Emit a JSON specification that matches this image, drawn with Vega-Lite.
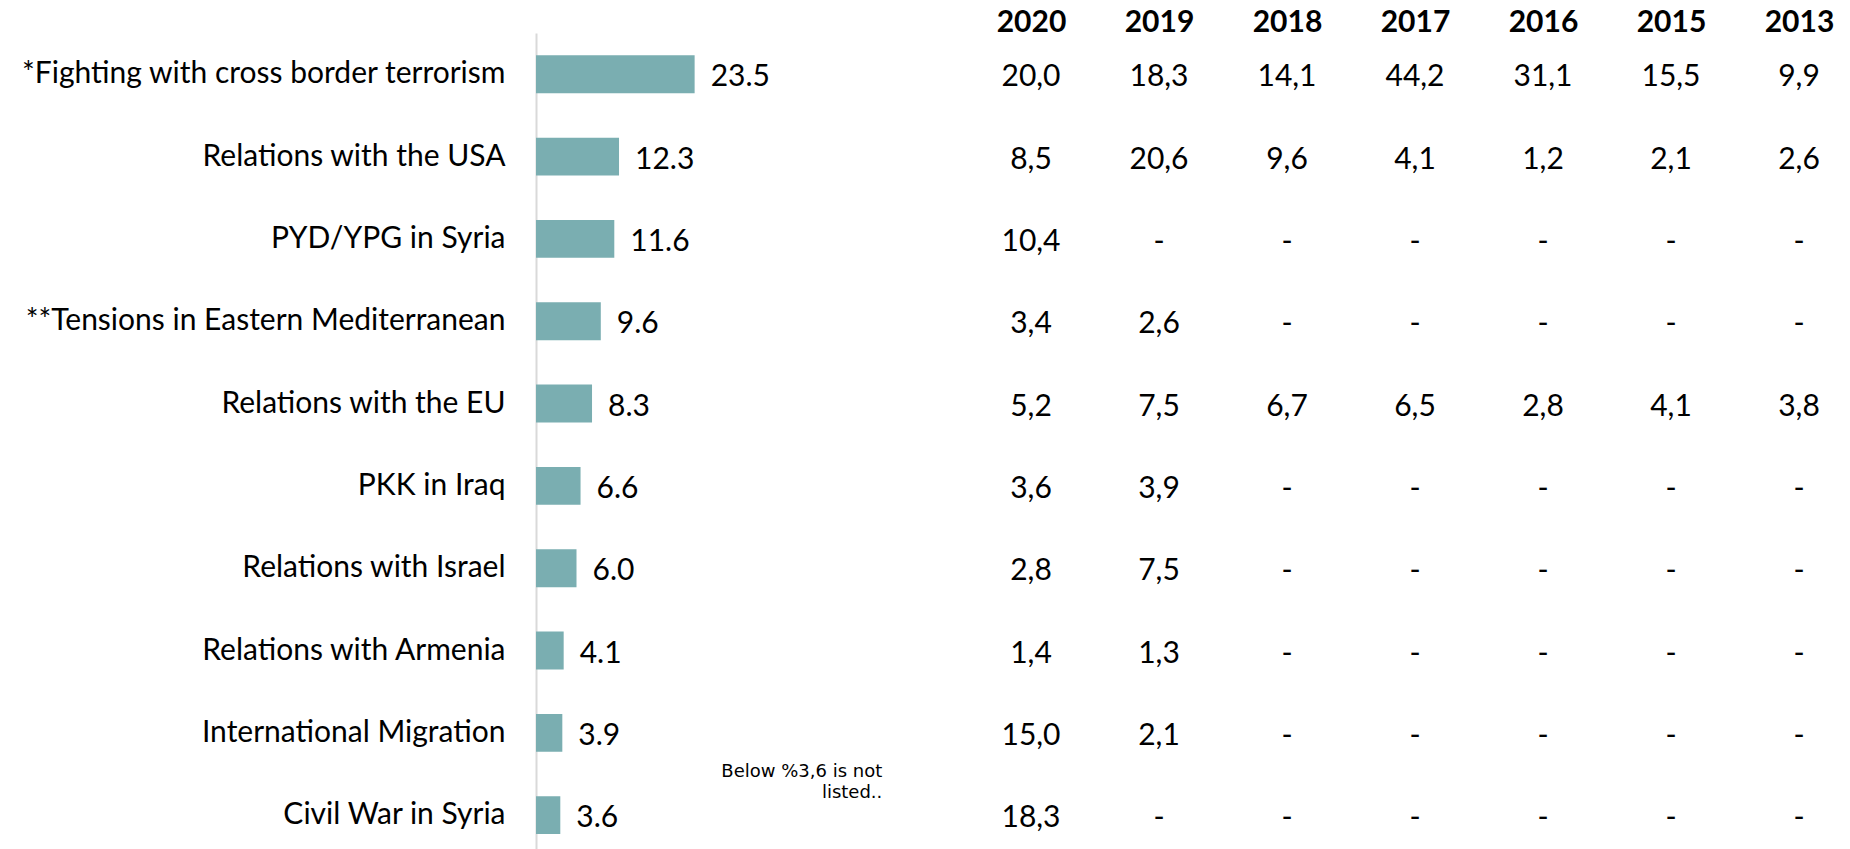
{
  "$schema": "https://vega.github.io/schema/vega-lite/v6.json",
  "autosize": {"type": "pad"},
  "padding": 0,
  "bounds": "flush",
  "spacing": 90,
  "background": "white",
  "config": {
    "view": {"stroke": null},
    "font": "Lato",
    "text": {"font": "Lato", "color": "#000000"}
  },
  "datasets": {
    "bars": [
      {"topic": "*Fighting with cross border terrorism", "value": 23.5},
      {"topic": "Relations with the USA", "value": 12.3},
      {"topic": "PYD/YPG in Syria", "value": 11.6},
      {"topic": "**Tensions in Eastern Mediterranean", "value": 9.6},
      {"topic": "Relations with the EU", "value": 8.3},
      {"topic": "PKK in Iraq", "value": 6.6},
      {"topic": "Relations with Israel", "value": 6.0},
      {"topic": "Relations with Armenia", "value": 4.1},
      {"topic": "International Migration", "value": 3.9},
      {"topic": "Civil War in Syria", "value": 3.6}
    ],
    "note": [
      {"topic": "Civil War in Syria", "x": 51.3, "label": "Below %3,6 is not\nlisted.."}
    ],
    "table": [
      {"topic": "*Fighting with cross border terrorism", "year": "2020", "cell": "20,0"},
      {"topic": "*Fighting with cross border terrorism", "year": "2019", "cell": "18,3"},
      {"topic": "*Fighting with cross border terrorism", "year": "2018", "cell": "14,1"},
      {"topic": "*Fighting with cross border terrorism", "year": "2017", "cell": "44,2"},
      {"topic": "*Fighting with cross border terrorism", "year": "2016", "cell": "31,1"},
      {"topic": "*Fighting with cross border terrorism", "year": "2015", "cell": "15,5"},
      {"topic": "*Fighting with cross border terrorism", "year": "2013", "cell": "9,9"},
      {"topic": "Relations with the USA", "year": "2020", "cell": "8,5"},
      {"topic": "Relations with the USA", "year": "2019", "cell": "20,6"},
      {"topic": "Relations with the USA", "year": "2018", "cell": "9,6"},
      {"topic": "Relations with the USA", "year": "2017", "cell": "4,1"},
      {"topic": "Relations with the USA", "year": "2016", "cell": "1,2"},
      {"topic": "Relations with the USA", "year": "2015", "cell": "2,1"},
      {"topic": "Relations with the USA", "year": "2013", "cell": "2,6"},
      {"topic": "PYD/YPG in Syria", "year": "2020", "cell": "10,4"},
      {"topic": "PYD/YPG in Syria", "year": "2019", "cell": "-"},
      {"topic": "PYD/YPG in Syria", "year": "2018", "cell": "-"},
      {"topic": "PYD/YPG in Syria", "year": "2017", "cell": "-"},
      {"topic": "PYD/YPG in Syria", "year": "2016", "cell": "-"},
      {"topic": "PYD/YPG in Syria", "year": "2015", "cell": "-"},
      {"topic": "PYD/YPG in Syria", "year": "2013", "cell": "-"},
      {"topic": "**Tensions in Eastern Mediterranean", "year": "2020", "cell": "3,4"},
      {"topic": "**Tensions in Eastern Mediterranean", "year": "2019", "cell": "2,6"},
      {"topic": "**Tensions in Eastern Mediterranean", "year": "2018", "cell": "-"},
      {"topic": "**Tensions in Eastern Mediterranean", "year": "2017", "cell": "-"},
      {"topic": "**Tensions in Eastern Mediterranean", "year": "2016", "cell": "-"},
      {"topic": "**Tensions in Eastern Mediterranean", "year": "2015", "cell": "-"},
      {"topic": "**Tensions in Eastern Mediterranean", "year": "2013", "cell": "-"},
      {"topic": "Relations with the EU", "year": "2020", "cell": "5,2"},
      {"topic": "Relations with the EU", "year": "2019", "cell": "7,5"},
      {"topic": "Relations with the EU", "year": "2018", "cell": "6,7"},
      {"topic": "Relations with the EU", "year": "2017", "cell": "6,5"},
      {"topic": "Relations with the EU", "year": "2016", "cell": "2,8"},
      {"topic": "Relations with the EU", "year": "2015", "cell": "4,1"},
      {"topic": "Relations with the EU", "year": "2013", "cell": "3,8"},
      {"topic": "PKK in Iraq", "year": "2020", "cell": "3,6"},
      {"topic": "PKK in Iraq", "year": "2019", "cell": "3,9"},
      {"topic": "PKK in Iraq", "year": "2018", "cell": "-"},
      {"topic": "PKK in Iraq", "year": "2017", "cell": "-"},
      {"topic": "PKK in Iraq", "year": "2016", "cell": "-"},
      {"topic": "PKK in Iraq", "year": "2015", "cell": "-"},
      {"topic": "PKK in Iraq", "year": "2013", "cell": "-"},
      {"topic": "Relations with Israel", "year": "2020", "cell": "2,8"},
      {"topic": "Relations with Israel", "year": "2019", "cell": "7,5"},
      {"topic": "Relations with Israel", "year": "2018", "cell": "-"},
      {"topic": "Relations with Israel", "year": "2017", "cell": "-"},
      {"topic": "Relations with Israel", "year": "2016", "cell": "-"},
      {"topic": "Relations with Israel", "year": "2015", "cell": "-"},
      {"topic": "Relations with Israel", "year": "2013", "cell": "-"},
      {"topic": "Relations with Armenia", "year": "2020", "cell": "1,4"},
      {"topic": "Relations with Armenia", "year": "2019", "cell": "1,3"},
      {"topic": "Relations with Armenia", "year": "2018", "cell": "-"},
      {"topic": "Relations with Armenia", "year": "2017", "cell": "-"},
      {"topic": "Relations with Armenia", "year": "2016", "cell": "-"},
      {"topic": "Relations with Armenia", "year": "2015", "cell": "-"},
      {"topic": "Relations with Armenia", "year": "2013", "cell": "-"},
      {"topic": "International Migration", "year": "2020", "cell": "15,0"},
      {"topic": "International Migration", "year": "2019", "cell": "2,1"},
      {"topic": "International Migration", "year": "2018", "cell": "-"},
      {"topic": "International Migration", "year": "2017", "cell": "-"},
      {"topic": "International Migration", "year": "2016", "cell": "-"},
      {"topic": "International Migration", "year": "2015", "cell": "-"},
      {"topic": "International Migration", "year": "2013", "cell": "-"},
      {"topic": "Civil War in Syria", "year": "2020", "cell": "18,3"},
      {"topic": "Civil War in Syria", "year": "2019", "cell": "-"},
      {"topic": "Civil War in Syria", "year": "2018", "cell": "-"},
      {"topic": "Civil War in Syria", "year": "2017", "cell": "-"},
      {"topic": "Civil War in Syria", "year": "2016", "cell": "-"},
      {"topic": "Civil War in Syria", "year": "2015", "cell": "-"},
      {"topic": "Civil War in Syria", "year": "2013", "cell": "-"}
    ]
  },
  "hconcat": [
    {
      "width": 405,
      "height": 816,
      "layer": [
        {
          "data": {"name": "bars"},
          "mark": {"type": "bar", "color": "#7aaeb1"},
          "encoding": {
            "y": {
              "field": "topic", "type": "nominal", "sort": null,
              "scale": {"paddingInner": 0.54, "paddingOuter": 0.226, "align": 0.6},
              "axis": {
                "title": null, "ticks": false, "labelPadding": 31,
                "labelFont": "Lato", "labelFontSize": 30, "labelColor": "#000000",
                "labelLimit": 600, "domainColor": "#d9d9d9", "domainWidth": 2,
                "minExtent": 536, "maxExtent": 536
              }
            },
            "x": {
              "field": "value", "type": "quantitative",
              "scale": {"domain": [0, 60], "nice": false, "zero": true},
              "axis": null
            }
          }
        },
        {
          "data": {"name": "bars"},
          "mark": {"type": "text", "align": "left", "baseline": "middle", "dx": 16, "dy": 3, "fontSize": 30, "font": "Lato"},
          "encoding": {
            "y": {"field": "topic", "type": "nominal", "sort": null},
            "x": {"field": "value", "type": "quantitative"},
            "text": {"field": "value", "type": "quantitative", "format": ".1f"}
          }
        },
        {
          "data": {"name": "note"},
          "mark": {"type": "text", "align": "right", "baseline": "middle", "lineBreak": "\n", "lineHeight": 21, "font": "DejaVu Sans", "fontSize": 18, "dy": -43},
          "encoding": {
            "y": {"field": "topic", "type": "nominal", "sort": null},
            "x": {"field": "x", "type": "quantitative"},
            "text": {"field": "label", "type": "nominal"}
          }
        }
      ]
    },
    {
      "width": 768,
      "height": 816,
      "data": {"name": "table"},
      "mark": {"type": "text", "align": "center", "baseline": "middle", "dy": 3, "fontSize": 30, "font": "Lato"},
      "encoding": {
        "y": {
          "field": "topic", "type": "nominal",
          "sort": ["*Fighting with cross border terrorism", "Relations with the USA", "PYD/YPG in Syria", "**Tensions in Eastern Mediterranean", "Relations with the EU", "PKK in Iraq", "Relations with Israel", "Relations with Armenia", "International Migration", "Civil War in Syria"],
          "scale": {"type": "band", "paddingInner": 0.54, "paddingOuter": 0.226, "align": 0.6},
          "axis": null
        },
        "x": {
          "field": "year", "type": "nominal",
          "sort": ["2020", "2019", "2018", "2017", "2016", "2015", "2013"],
          "scale": {"type": "point", "padding": 0},
          "axis": {
            "orient": "top", "title": null, "ticks": false, "domain": false,
            "labelFont": "Lato", "labelFontSize": 30, "labelFontWeight": "bold",
            "labelColor": "#000000", "labelBaseline": "alphabetic", "labelPadding": 2, "labelAngle": 0,
            "minExtent": 33, "maxExtent": 33
          }
        },
        "text": {"field": "cell", "type": "nominal"}
      }
    }
  ]
}
